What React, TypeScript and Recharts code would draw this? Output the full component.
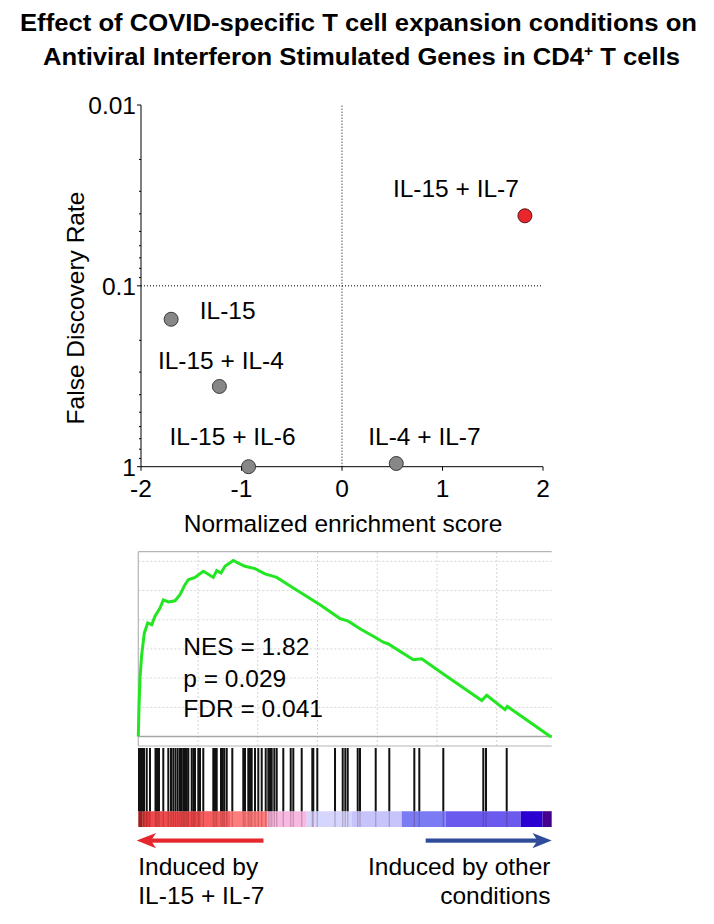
import React from 'react';
import {
  ScatterChart,
  Scatter,
  XAxis,
  YAxis,
  ReferenceLine,
  LineChart,
  Line,
  ComposedChart,
  Bar,
  ReferenceArea,
} from 'recharts';

// ---------------- DATA ----------------
const conditions = ['IL-15 + IL-7', 'IL-15', 'IL-15 + IL-4', 'IL-15 + IL-6', 'IL-4 + IL-7'];
const nesValues = [1.82, -1.7, -1.22, -0.93, 0.54];
const fdrValues = [0.041, 0.153, 0.36, 1.0, 0.96];

const xTicks = [-2, -1, 0, 1, 2];
const yTicks = [
  0.01, 0.02, 0.03, 0.04, 0.05, 0.06, 0.07, 0.08, 0.09,
  0.1, 0.2, 0.3, 0.4, 0.5, 0.6, 0.7, 0.8, 0.9, 1,
];
const yMajorTicks = [0.01, 0.1, 1];
const yMajorLabels = ['0.01', '0.1', '1'];

// running enrichment score (rank in ranked gene list, ES)
const esRanks = [
  0, 29, 71, 142, 251, 393, 561, 699, 908, 1046, 1256, 1536, 1745, 1954, 2093, 2373,
  2720, 2930, 3139, 3281, 3461, 3628, 3976, 4185, 4465, 4884, 5302, 5792, 6487, 7604,
  8441, 8789, 9278, 9906, 10253, 10463, 11509, 11860, 12764, 14371, 14580, 15346,
  15443, 17230, 17300,
];
const esValues = [
  0, 0.098, 0.2, 0.28, 0.354, 0.389, 0.383, 0.412, 0.44, 0.468, 0.461, 0.465, 0.486,
  0.52, 0.537, 0.545, 0.566, 0.556, 0.545, 0.568, 0.56, 0.583, 0.603, 0.594, 0.583,
  0.575, 0.557, 0.545, 0.509, 0.451, 0.404, 0.395, 0.369, 0.34, 0.323, 0.317, 0.263,
  0.266, 0.214, 0.123, 0.141, 0.092, 0.103, 0.001, 0,
];

// gene set hits along ranked list
const hitRanks = [
  29, 71, 113, 155, 197, 239, 352, 490, 720, 783, 866, 1046, 1256, 1369, 1465, 1557,
  1649, 1745, 1816, 1892, 1954, 2026, 2093, 2235, 2310, 2373, 2511, 2582, 2720, 3139,
  3210, 3281, 3461, 3532, 3599, 3700, 3934, 4394, 4465, 4603, 4675, 4746, 4884, 5022,
  5164, 5332, 5441, 5512, 5583, 5692, 5792, 6068, 6378, 6487, 6838, 7282, 7324, 7491,
  8232, 8554, 8663, 8764, 9182, 9278, 9935, 10504, 11551, 11760, 12764, 14438, 14551,
  15417,
];

// ranked-metric colour bar
const bandStarts = [0, 172, 490, 2582, 3838, 5399, 7048, 8943, 11023, 12865, 16003, 16920];
const bandEnds = [172, 490, 2582, 3838, 5399, 7048, 8943, 11023, 12865, 16003, 16920, 17300];
const bandColors = [
  '#c42a2e', '#e23a3c', '#f04a4c', '#f85e60', '#ff7d7d', '#f7b8e2',
  '#d5d5fd', '#c6c4fa', '#7b7bf3', '#6a5aee', '#2a00d2', '#46008f',
];

const gridRanks = [2500, 5000, 7500, 10000, 12500, 15000];
const gridEs = [0.1, 0.2, 0.3, 0.4, 0.5, 0.6];

// ---------------- CONFIG ----------------
const RANK_MAX = 17300;
const ES_MAX = 0.633;
const ES_MIN = -0.0325;
const COLOR_TOP = 0.2;
const HIT_WIDTH = 2;
const FS = 24.5;
const FONT = '"Liberation Sans", Arial, Helvetica, sans-serif';
const TITLE_FONT = '"Liberation Sans Narrow", "Liberation Sans", Arial, sans-serif';

const pointStyle: Record<string, { fill: string; stroke: string }> = {
  'IL-15 + IL-7': { fill: '#e8262b', stroke: '#5a1212' },
};
const defaultPointStyle = { fill: '#878787', stroke: '#3a3a3a' };
const labelOffset: Record<string, { dx: number; dy: number; anchor: 'start' | 'middle' | 'end' }> = {
  'IL-15 + IL-7': { dx: -69, dy: -19, anchor: 'middle' },
  'IL-15': { dx: 28.6, dy: 0, anchor: 'start' },
  'IL-15 + IL-4': { dx: 1.5, dy: -17.4, anchor: 'middle' },
  'IL-15 + IL-6': { dx: -16, dy: -21.7, anchor: 'middle' },
  'IL-4 + IL-7': { dx: 28.2, dy: -18.3, anchor: 'middle' },
};

const scatterData = conditions.map((name, i) => ({ name, nes: nesValues[i], fdr: fdrValues[i] }));
const esData = esRanks.map((rank, i) => ({ rank, es: esValues[i] }));
const hitData = hitRanks.map((rank) => ({ rank, span: [COLOR_TOP, 1] }));

const layer: React.CSSProperties = { position: 'absolute', left: 0, top: 0 };

function YTick(props: any) {
  const { x, y, payload } = props;
  const v = payload.value;
  const idx = yMajorTicks.findIndex((m) => Math.abs(m - v) < 1e-9);
  const major = idx >= 0;
  return (
    <g>
      <line x1={x - (major ? 4 : 2)} x2={x} y1={y} y2={y} stroke="#000" strokeWidth={1} />
      {major && (
        <text x={x - 5} y={y + 9} textAnchor="end" fontSize={FS} fontFamily={FONT} fill="#000">
          {yMajorLabels[idx]}
        </text>
      )}
    </g>
  );
}

function XTick(props: any) {
  const { x, y, payload } = props;
  return (
    <g>
      <line x1={x} x2={x} y1={y} y2={y + 4} stroke="#000" strokeWidth={1} />
      <text x={x} y={y + 30} textAnchor="middle" fontSize={FS} fontFamily={FONT} fill="#000">
        {String(payload.value)}
      </text>
    </g>
  );
}

function PointShape(props: any) {
  const { cx, cy, payload } = props;
  const st = pointStyle[payload.name] || defaultPointStyle;
  const off = labelOffset[payload.name] || { dx: 0, dy: -16, anchor: 'middle' };
  return (
    <g>
      <circle cx={cx} cy={cy} r={7} fill={st.fill} stroke={st.stroke} strokeWidth={1} />
      <text
        x={cx + off.dx}
        y={cy + off.dy}
        textAnchor={off.anchor}
        fontSize={FS}
        fontFamily={FONT}
        fill="#000"
      >
        {payload.name}
      </text>
    </g>
  );
}

function HitShape(props: any) {
  const { x, y, width, height } = props;
  if (![x, y, width, height].every((v) => Number.isFinite(v))) return null;
  const cx = x + width / 2;
  return <rect x={cx - HIT_WIDTH / 2} y={y} width={HIT_WIDTH} height={height} fill="#111" />;
}

export default function App() {
  return (
    <div style={{ position: 'absolute', left: 0, top: 0, width: 714, height: 924, background: '#fff' }}>
      {/* Scatter: NES vs FDR */}
      <div style={layer}>
        <ScatterChart
          width={714}
          height={924}
          margin={{ top: 105, right: 171, bottom: 417.3, left: 81 }}
        >
          <XAxis
            type="number"
            dataKey="nes"
            domain={[-2, 2]}
            ticks={xTicks}
            interval={0}
            height={40}
            tickSize={0}
            tickMargin={0}
            tickLine={false}
            axisLine={{ stroke: '#000', strokeWidth: 1 }}
            tick={<XTick />}
          />
          <YAxis
            type="number"
            dataKey="fdr"
            scale="log"
            domain={[0.01, 1]}
            reversed
            ticks={yTicks}
            interval={0}
            width={60}
            tickSize={0}
            tickMargin={0}
            tickLine={false}
            axisLine={{ stroke: '#000', strokeWidth: 1 }}
            tick={<YTick />}
          />
          <ReferenceLine x={0} stroke="#000" strokeDasharray="1 2" />
          <ReferenceLine y={0.1} stroke="#000" strokeDasharray="1 2" />
          <Scatter data={scatterData} shape={<PointShape />} isAnimationActive={false} />
        </ScatterChart>
      </div>

      {/* Running enrichment score */}
      <div style={layer}>
        <LineChart
          width={714}
          height={924}
          data={esData}
          margin={{ top: 551.7, right: 162.3, bottom: 178, left: 138.3 }}
        >
          <XAxis type="number" dataKey="rank" domain={[0, RANK_MAX]} hide />
          <YAxis type="number" domain={[ES_MIN, ES_MAX]} hide />
          {gridRanks.map((r) => (
            <ReferenceLine key={'gx' + r} x={r} stroke="#d6d6d6" strokeDasharray="2 2" />
          ))}
          {gridEs.map((e) => (
            <ReferenceLine key={'gy' + e} y={e} stroke="#d6d6d6" strokeDasharray="2 2" />
          ))}
          <ReferenceLine y={0} stroke="#a6a6a6" strokeWidth={1.5} />
          <ReferenceLine y={ES_MAX} stroke="#b4b4b4" strokeWidth={1.2} />
          <ReferenceLine y={ES_MIN} stroke="#b4b4b4" strokeWidth={1.2} />
          <ReferenceLine x={0} stroke="#b4b4b4" strokeWidth={1.2} />
          <Line
            type="linear"
            dataKey="es"
            stroke="#22e622"
            strokeWidth={3}
            dot={false}
            isAnimationActive={false}
          />
        </LineChart>
      </div>

      {/* Hit barcode and ranked metric colour bar */}
      <div style={layer}>
        <ComposedChart
          width={714}
          height={924}
          data={hitData}
          margin={{ top: 748, right: 162.3, bottom: 97, left: 138.3 }}
        >
          <XAxis type="number" dataKey="rank" domain={[0, RANK_MAX]} hide />
          <YAxis type="number" domain={[0, 1]} hide />
          {bandStarts.map((s, i) => (
            <ReferenceArea
              key={'b' + i}
              x1={s}
              x2={bandEnds[i]}
              y1={0}
              y2={COLOR_TOP}
              fill={bandColors[i]}
              fillOpacity={1}
              stroke="none"
            />
          ))}
          {hitRanks.map((h, i) => (
            <ReferenceLine
              key={'s' + i}
              segment={[{ x: h, y: 0 }, { x: h, y: COLOR_TOP }]}
              stroke="rgba(60,0,0,0.2)"
              strokeWidth={1.4}
            />
          ))}
          <Bar dataKey="span" fill="#111" shape={<HitShape />} isAnimationActive={false} />
        </ComposedChart>
      </div>

      {/* Titles, axis titles and annotations */}
      <svg width={714} height={924} style={{ ...layer, pointerEvents: 'none' }}>
        <text
          x={358.5}
          y={31}
          textAnchor="middle"
          fontSize={23}
          fontWeight="bold"
          fontFamily={TITLE_FONT}
          textLength={677}
          lengthAdjust="spacingAndGlyphs"
          fill="#000"
        >
          Effect of COVID-specific T cell expansion conditions on
        </text>
        <text
          x={361.5}
          y={65}
          textAnchor="middle"
          fontSize={23}
          fontWeight="bold"
          fontFamily={TITLE_FONT}
          textLength={637}
          lengthAdjust="spacingAndGlyphs"
          fill="#000"
        >
          Antiviral Interferon Stimulated Genes in CD4
          <tspan fontSize={14} dy={-9}>+</tspan>
          <tspan dy={9}> T cells</tspan>
        </text>

        <text
          x={84}
          y={308}
          transform="rotate(-90 84 308)"
          textAnchor="middle"
          fontSize={FS}
          fontFamily={FONT}
          fill="#000"
        >
          False Discovery Rate
        </text>
        <text x={343} y={532} textAnchor="middle" fontSize={FS} fontFamily={FONT} fill="#000">
          Normalized enrichment score
        </text>

        <text x={183.3} y={655} fontSize={FS} fontFamily={FONT} fill="#000">NES = 1.82</text>
        <text x={183.3} y={686.5} fontSize={FS} fontFamily={FONT} fill="#000">p = 0.029</text>
        <text x={183.3} y={716.7} fontSize={FS} fontFamily={FONT} fill="#000">FDR = 0.041</text>

        {/* arrows */}
        <rect x={150} y={838.5} width={113.5} height={4.2} fill="#e5262c" />
        <polygon points="136.7,840.6 156,833 151,840.6 156,848.2" fill="#e5262c" />
        <rect x={425.7} y={838.5} width={112} height={4.2} fill="#2f4b9a" />
        <polygon points="551.7,840.6 532.5,833 537.5,840.6 532.5,848.2" fill="#2f4b9a" />

        <text x={138.3} y={875} fontSize={FS} fontFamily={FONT} fill="#000">Induced by</text>
        <text x={138.3} y={903.5} fontSize={FS} fontFamily={FONT} fill="#000">IL-15 + IL-7</text>
        <text x={550.5} y={875} textAnchor="end" fontSize={FS} fontFamily={FONT} fill="#000">
          Induced by other
        </text>
        <text x={550.5} y={903.5} textAnchor="end" fontSize={FS} fontFamily={FONT} fill="#000">
          conditions
        </text>
      </svg>
    </div>
  );
}
